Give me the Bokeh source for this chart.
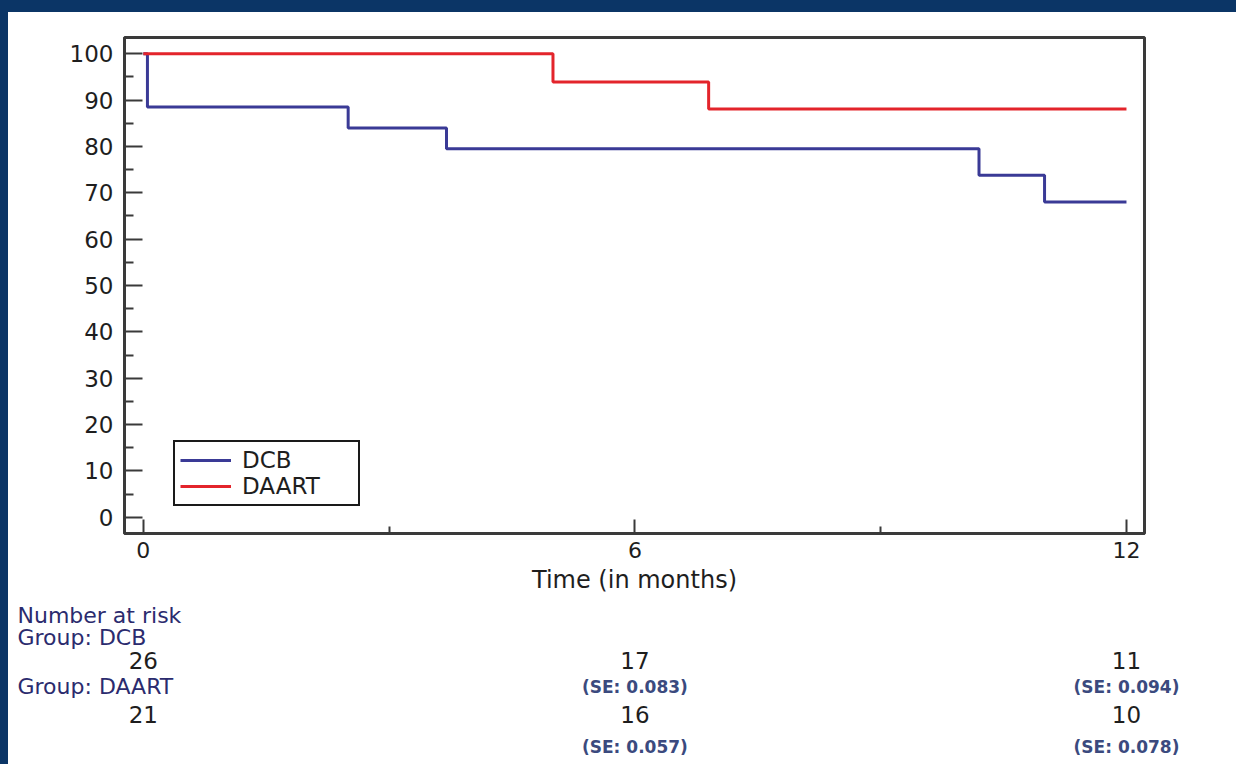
from bokeh.plotting import figure
from bokeh.models import Range1d, FixedTicker, Legend, LegendItem
from bokeh.layouts import column
from bokeh.core.properties import value
from bokeh.embed import file_html
from bokeh.resources import INLINE

# ---------------- data ----------------
dcb_time = [0, 0.05, 2.5, 3.7, 10.2, 11.0, 12]
dcb_surv = [100, 88.5, 84.0, 79.5, 73.8, 68.0, 68.0]
daart_time = [0, 5.0, 6.9, 12]
daart_surv = [100, 93.9, 88.1, 88.1]

x_ticks = [0, 6, 12]
x_minor = [3, 9]
y_ticks = [0, 10, 20, 30, 40, 50, 60, 70, 80, 90, 100]
y_minor = [5, 15, 25, 35, 45, 55, 65, 75, 85, 95]

risk_times = [0, 6, 12]
dcb_at_risk = [26, 17, 11]
daart_at_risk = [21, 16, 10]
se_times = [6, 12]
dcb_se = [0.083, 0.094]
daart_se = [0.057, 0.078]

series_names = ["DCB", "DAART"]
risk_title = "Number at risk"
x_title = "Time (in months)"

# ---------------- style ----------------
FONT = "DejaVu Sans"
BLUE = "#3a3a96"
RED = "#e3242b"
FRAME = "#3a3a3a"
NAVY = "#2b2b6e"
SE_COL = "#3b4a7e"
TXT = "#1e1e1e"

W = 1228
TOP_H = 588
BL, BR, BT, BB = 116, 92, 25, 67
x0, x1 = -0.23, 12.22

p = figure(width=W, height=TOP_H, x_range=Range1d(x0, x1), y_range=Range1d(-3.5, 103.5),
           output_backend="svg", toolbar_location=None,
           min_border_left=BL, min_border_right=BR, min_border_top=BT, min_border_bottom=BB)
p.frame_align = False
p.grid.visible = False
p.outline_line_color = FRAME
p.outline_line_width = 3
p.background_fill_color = "white"
p.border_fill_color = "white"

p.xaxis.ticker = FixedTicker(ticks=x_ticks, minor_ticks=x_minor)
p.yaxis.ticker = FixedTicker(ticks=y_ticks, minor_ticks=y_minor)
for ax in (p.xaxis, p.yaxis):
    ax.axis_line_color = FRAME
    ax.axis_line_width = 3
    ax.major_tick_line_color = FRAME
    ax.minor_tick_line_color = FRAME
    ax.major_tick_line_width = 2
    ax.minor_tick_line_width = 2
    ax.major_tick_out = 0
    ax.minor_tick_out = 0
    ax.major_label_text_font = FONT
    ax.major_label_text_color = TXT
p.xaxis.major_label_text_font_size = "22px"
p.yaxis.major_label_text_font_size = "23px"
p.xaxis.major_tick_in = 14
p.xaxis.minor_tick_in = 7
p.yaxis.major_tick_in = 18
p.yaxis.minor_tick_in = 9
p.xaxis.major_label_standoff = 8
p.yaxis.major_label_standoff = 11
p.xaxis.axis_label = x_title
p.xaxis.axis_label_text_font = FONT
p.xaxis.axis_label_text_font_size = "24px"
p.xaxis.axis_label_text_font_style = "normal"
p.xaxis.axis_label_text_color = TXT
p.xaxis.axis_label_standoff = 5

r1 = p.step(dcb_time, dcb_surv, mode="after", line_color=BLUE, line_width=3)
r2 = p.step(daart_time, daart_surv, mode="after", line_color=RED, line_width=3)

legend = Legend(items=[LegendItem(label=series_names[0], renderers=[r1]),
                       LegendItem(label=series_names[1], renderers=[r2])],
                location=(49, 27), orientation="vertical",
                border_line_color="#1a1a1a", border_line_width=2, border_line_alpha=1,
                background_fill_color="white", background_fill_alpha=1,
                label_text_font=FONT, label_text_font_size="23px",
                label_text_color=TXT, glyph_width=51, glyph_height=20,
                label_height=20, label_width=111, label_standoff=11,
                spacing=0, padding=5, margin=0)
p.add_layout(legend, "center")

# ---------------- number-at-risk table (second figure, same x scale) ----------------
ppu = (W - BL - BR) / (x1 - x0)
xs = x0 - BL / ppu
xe = x1 + BR / ppu
BOT_H = 764 - 12 - TOP_H
TOP_Y = 12 + TOP_H          # page y of the table's top edge
q = figure(width=W, height=BOT_H, x_range=Range1d(xs, xe), y_range=Range1d(BOT_H, 0),
           output_backend="svg", toolbar_location=None,
           min_border_left=0, min_border_right=0, min_border_top=0, min_border_bottom=0)
q.frame_align = False
q.axis.visible = False
q.grid.visible = False
q.outline_line_color = None
q.background_fill_color = "white"
q.border_fill_color = "white"

def ry(page_y):
    return page_y - TOP_Y

xlab = xs + 9 / ppu
row_labels = [risk_title, "Group: " + series_names[0], "Group: " + series_names[1]]
row_page_y = [615, 637, 686]
q.text(x=[xlab] * 3, y=[ry(v) for v in row_page_y], text=row_labels, text_font=value(FONT),
       text_font_size="22px", text_color=NAVY, text_align="left", text_baseline="middle")

q.text(x=risk_times, y=[ry(660)] * 3, text=[str(v) for v in dcb_at_risk], text_font=value(FONT),
       text_font_size="23px", text_color=TXT, text_align="center", text_baseline="middle")
q.text(x=risk_times, y=[ry(714)] * 3, text=[str(v) for v in daart_at_risk], text_font=value(FONT),
       text_font_size="23px", text_color=TXT, text_align="center", text_baseline="middle")
q.text(x=se_times, y=[ry(686)] * 2, text=["(SE: %.3f)" % v for v in dcb_se], text_font=value(FONT),
       text_font_size="17px", text_font_style="bold", text_color=SE_COL,
       text_align="center", text_baseline="middle")
q.text(x=se_times, y=[ry(746)] * 2, text=["(SE: %.3f)" % v for v in daart_se], text_font=value(FONT),
       text_font_size="17px", text_font_style="bold", text_color=SE_COL,
       text_align="center", text_baseline="middle")

layout = column(p, q, spacing=0)
layout.styles = {"background-color": "white"}

html = file_html(layout, INLINE)
html = html.replace("</head>", "<style>body{margin:12px 0 0 8px !important;background:#0b3566;}</style></head>", 1)
open("out.html", "w").write(html)
